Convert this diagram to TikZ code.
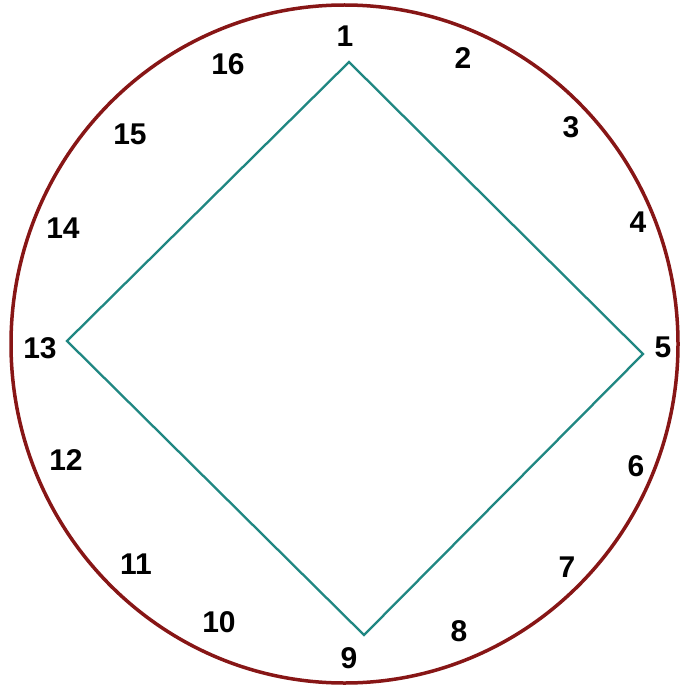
\documentclass[tikz,border=0pt]{standalone}
\usepackage{fontspec}
\setmainfont{Liberation Sans}
\definecolor{rim}{RGB}{135,22,22}
\definecolor{sq}{RGB}{32,135,130}
\begin{document}
\begin{tikzpicture}[x=1pt,y=-1pt,
  lbl/.style={font=\fontsize{30}{30}\selectfont\bfseries, inner sep=0pt},
  rimline/.style={draw=rim, line width=3.5pt},
  sqline/.style={draw=sq, line width=2.3pt, line join=miter}]
\useasboundingbox (0,0) rectangle (683,687);
\draw[rimline] (344.5,344) ellipse [x radius=333.5, y radius=339];
\coordinate (t) at (349,62);
\coordinate (r) at (643,354);
\coordinate (b) at (364,635);
\coordinate (l) at (67,341);
\draw[sqline] (t) -- (r) -- (b) -- (l) -- cycle;
\node[lbl] (n1) at (345,36) {1};
\node[lbl] (n2) at (463,58) {2};
\node[lbl] (n3) at (571,127) {3};
\node[lbl] (n4) at (638,222) {4};
\node[lbl] (n5) at (663,347) {5};
\node[lbl] (n6) at (636,466) {6};
\node[lbl] (n7) at (567,567) {7};
\node[lbl] (n8) at (459,631) {8};
\node[lbl] (n9) at (349,658) {9};
\node[lbl] (n10) at (219,622) {10};
\node[lbl] (n11) at (136,564) {11};
\node[lbl] (n12) at (66,460) {12};
\node[lbl] (n13) at (40,348) {13};
\node[lbl] (n14) at (63,228) {14};
\node[lbl] (n15) at (130,134) {15};
\node[lbl] (n16) at (228,64) {16};
\end{tikzpicture}
\end{document}
